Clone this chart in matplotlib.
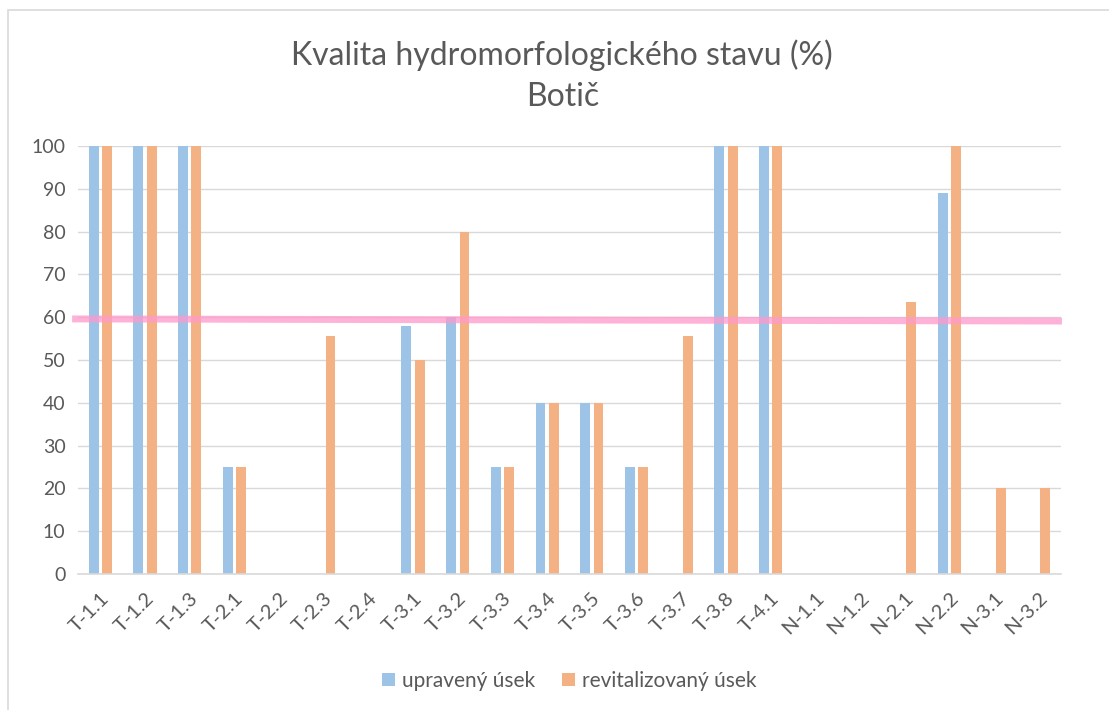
import numpy as np
import matplotlib.pyplot as plt
from matplotlib.patches import Rectangle

plt.rcParams['font.family'] = ['Lato', 'DejaVu Sans']

categories = ['T-1.1', 'T-1.2', 'T-1.3', 'T-2.1', 'T-2.2', 'T-2.3', 'T-2.4',
              'T-3.1', 'T-3.2', 'T-3.3', 'T-3.4', 'T-3.5', 'T-3.6', 'T-3.7',
              'T-3.8', 'T-4.1', 'N-1.1', 'N-1.2', 'N-2.1', 'N-2.2', 'N-3.1', 'N-3.2']
upraveny = [100, 100, 100, 25, 0, 0, 0, 58, 60, 25, 40, 40, 25, 0,
            100, 100, 0, 0, 0, 89, 0, 0]
revitalizovany = [100, 100, 100, 25, 0, 55.5, 0, 50, 80, 25, 40, 40, 25, 55.5,
                  100, 100, 0, 0, 63.5, 100, 20, 20]
# hand drawn marker line (start, end)
limit_line = [59.6, 59.1]

blue = '#9DC3E6'
orange = '#F4B183'
grey = '#595959'

fig = plt.figure(figsize=(11.09, 7.10), dpi=100)
ax = fig.add_axes([78 / 1109, 1 - 574 / 710, (1061 - 78) / 1109, (574 - 146) / 710])

x = np.arange(len(categories))
w = 0.22
ax.bar(x - 0.15, upraveny, w, color=blue, label='upravený úsek', zorder=2)
ax.bar(x + 0.15, revitalizovany, w, color=orange, label='revitalizovaný úsek', zorder=2)

ax.set_xlim(-0.5, len(categories) - 0.5)
ax.set_ylim(0, 100)
ax.set_yticks(range(0, 101, 10))
ax.grid(axis='y', color='#D9D9D9', lw=1, zorder=0)
for s in ['top', 'right', 'left']:
    ax.spines[s].set_visible(False)
ax.spines['bottom'].set_color('#D9D9D9')
ax.spines['bottom'].set_linewidth(1.2)
ax.tick_params(length=0, colors=grey, labelsize=14)
ax.tick_params(axis='y', pad=9)
ax.set_xticks(x)
ax.set_xticklabels(categories, rotation=45, ha='right', rotation_mode='anchor')
ax.tick_params(axis='x', labelsize=14.5, pad=11)

ax.plot([-0.006, 1.001], limit_line, transform=ax.get_yaxis_transform(),
        color='#FF99CC', alpha=0.75, lw=5, solid_capstyle='butt',
        clip_on=False, zorder=3)

fig.text(0.507, 1 - 55 / 710, 'Kvalita hydromorfologického stavu (%)',
         ha='center', va='center', fontsize=23, color=grey)
fig.text(0.507, 1 - 97 / 710, 'Botič',
         ha='center', va='center', fontsize=23, color=grey)

ax.legend(loc='center', bbox_to_anchor=(0.5, -0.25), ncol=2, frameon=False,
          fontsize=15, labelcolor=grey, handlelength=0.6, handleheight=0.6,
          columnspacing=1.3, handletextpad=0.35)

fig.patches.append(Rectangle((8 / 1109, -0.1), 1.2, 1 - 10 / 710 + 0.1,
                             transform=fig.transFigure, fill=False,
                             edgecolor='#D9D9D9', lw=1.2))

fig.savefig('out.png', dpi=100)
